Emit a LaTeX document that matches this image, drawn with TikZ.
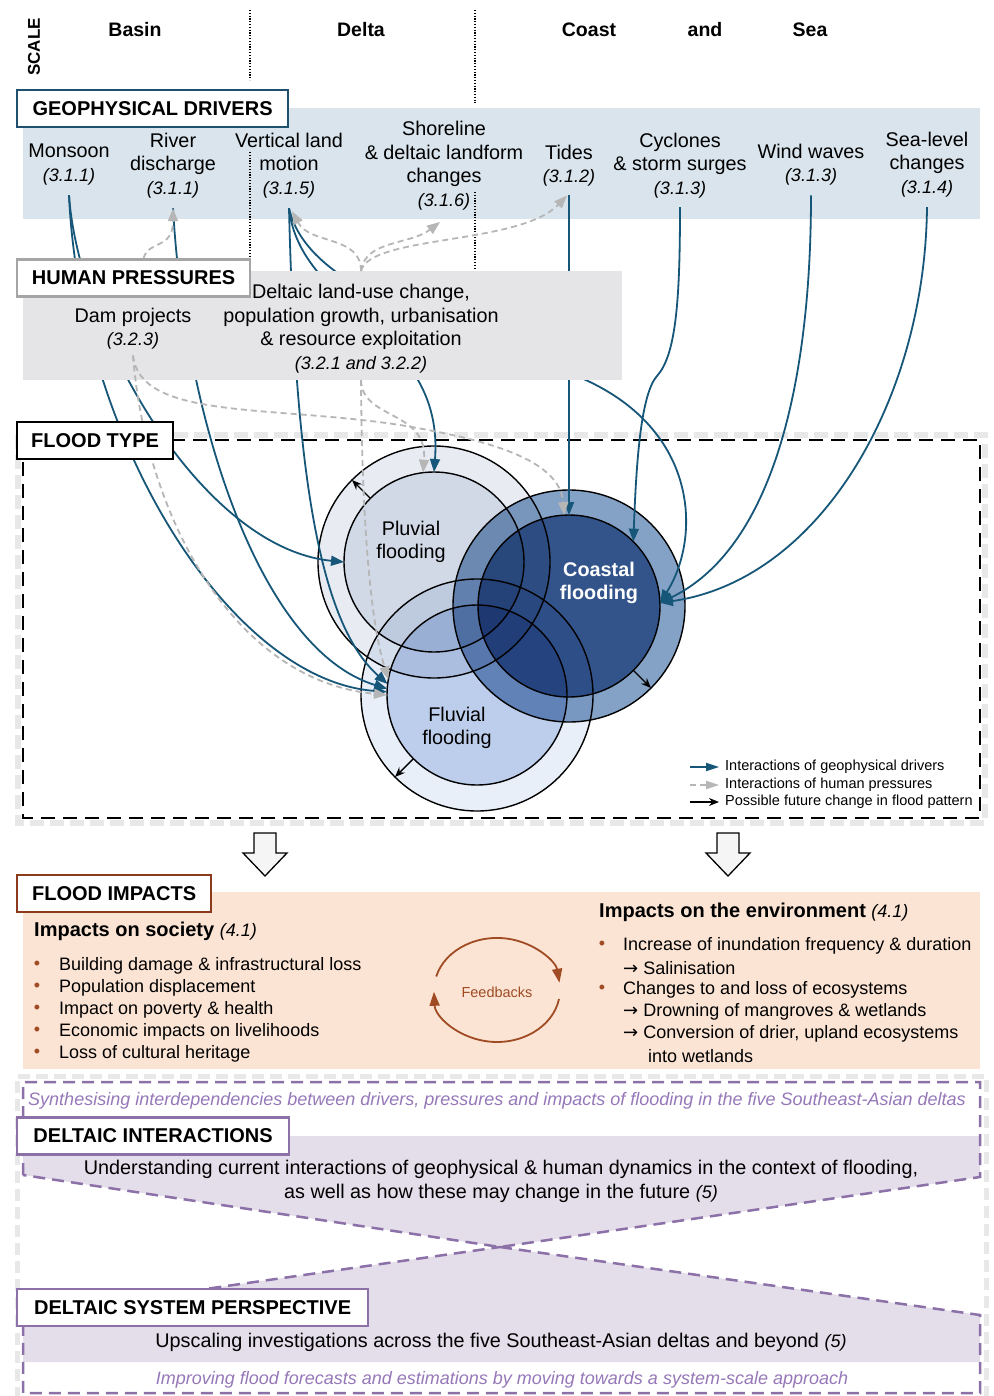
\documentclass[tikz,border=0pt]{standalone}
\usepackage{fontspec}
\setmainfont{Liberation Sans}
\newfontfamily\arrfont{DejaVu Sans}
\usetikzlibrary{arrows.meta}

\definecolor{geoblue}{RGB}{22,86,120}
\definecolor{geoband}{RGB}{217,228,236}
\definecolor{geoedge}{RGB}{31,80,110}
\definecolor{humband}{RGB}{229,228,230}
\definecolor{humedge}{RGB}{165,165,165}
\definecolor{humline}{RGB}{182,182,182}
\definecolor{impband}{RGB}{251,228,212}
\definecolor{impedge}{RGB}{140,58,28}
\definecolor{impbrown}{RGB}{160,75,35}
\definecolor{delband}{RGB}{228,221,234}
\definecolor{deledge}{RGB}{140,112,168}
\definecolor{deltext}{RGB}{150,120,185}
\definecolor{cPluvO}{RGB}{232,236,242}
\definecolor{cPluvI}{RGB}{208,217,229}
\definecolor{cCstO}{RGB}{132,162,198}
\definecolor{cCstI}{RGB}{50,84,138}
\definecolor{cFluvO}{RGB}{233,239,249}
\definecolor{cFluvI}{RGB}{188,206,235}

\tikzset{
  geo/.style={draw=geoblue, line width=1.8pt, -{Triangle[length=13pt,width=10pt]}},
  hum/.style={draw=humline, line width=1.8pt, dash pattern=on 6pt off 4pt, -{Triangle[length=13pt,width=10pt]}},
  fut/.style={draw=black, line width=1.4pt, -{Stealth[length=10pt,width=8pt]}},
  ring/.style={circle, draw=black, line width=1.4pt, inner sep=0pt, outer sep=0pt},
  lbl/.style={draw, fill=white, line width=2.2pt, inner sep=0pt, anchor=west, minimum height=37pt, font=\bfseries\fontsize{20}{24}\selectfont},
  drv/.style={align=center, inner sep=0pt, font=\fontsize{19.8}{23.5}\selectfont},
  hdr/.style={inner sep=0pt, font=\bfseries\fontsize{19.5}{23}\selectfont},
  item/.style={anchor=west, inner sep=0pt, font=\fontsize{18}{22}\selectfont},
  bul/.style={inner sep=0pt, text=impbrown, font=\fontsize{18}{22}\selectfont},
  leg/.style={anchor=west, inner sep=0pt, font=\fontsize{14.5}{17}\selectfont},
  blockarr/.style={draw=black, fill=gray!8, line width=1.3pt, line join=miter},
  deldash/.style={draw=deledge, line width=2.5pt, dash pattern=on 12pt off 7pt},
  fbarr/.style={draw=impbrown, line width=1.8pt, -{Triangle[length=14pt,width=10pt]}},
}
\newcommand{\refno}[1]{{\itshape\fontsize{18}{23.5}\selectfont #1}}
\newcommand{\ra}{{\arrfont\fontsize{18}{22}\selectfont →}}

\begin{document}
\begin{tikzpicture}[x=1pt,y=-1pt]
\useasboundingbox (0,0) rectangle (993,1396);
\fill[white] (0,0) rectangle (993,1396);

% scale
\node[hdr, rotate=90, font=\bfseries\fontsize{17}{20}\selectfont] (scale) at (34,47) {SCALE};
\node[hdr] (basin) at (135,30) {Basin};
\node[hdr] (delta) at (361,30) {Delta};
\node[hdr] (coast) at (589,30) {Coast};
\node[hdr] (andH) at (705,30) {and};
\node[hdr] (seaH) at (810,30) {Sea};

% geophysical band
\node[fill=geoband, minimum width=957pt, minimum height=111pt, inner sep=0pt, outer sep=0pt] (geobox) at (501.5,163.5) {};
\draw[line width=1.2pt, dash pattern=on 1.2pt off 1.6pt] (250,10) -- (250,80);
\draw[line width=1.2pt, dash pattern=on 1.2pt off 1.6pt] (475,10) -- (475,103);
\draw[line width=1.2pt, dash pattern=on 1.2pt off 1.6pt] (250,152) -- (250,270);
\draw[line width=1.2pt, dash pattern=on 1.2pt off 1.6pt] (475,192) -- (475,270);

\node[drv] (mons) at (69,164.5) {Monsoon\\\refno{(3.1.1)}};
\node[drv] (riv) at (173,165.5) {River\\discharge\\\refno{(3.1.1)}};
\node[drv] (vlm) at (289,165.5) {Vertical land\\motion\\\refno{(3.1.5)}};
\node[drv] (shore) at (444,165.5) {Shoreline\\\& deltaic landform\\changes\\\refno{(3.1.6)}};
\node[drv] (tide) at (569,165.5) {Tides\\\refno{(3.1.2)}};
\node[drv] (cyc) at (680,165.5) {Cyclones\\\& storm surges\\\refno{(3.1.3)}};
\node[drv] (wind) at (811,164.5) {Wind waves\\\refno{(3.1.3)}};
\node[drv] (slc) at (927,164.5) {Sea-level\\changes\\\refno{(3.1.4)}};

% flood type frame
\draw[gray!18, line width=6pt, dash pattern=on 14pt off 6pt] (18,435) rectangle (985,823);
\draw[line width=2.5pt, dash pattern=on 14pt off 8pt] (23,440) rectangle (980,818);

% circles
\begin{scope}[blend mode=multiply]
  \fill[cPluvO, even odd rule] (434,562) circle[radius=116] (434,562) circle[radius=90];
  \fill[cPluvI] (434,562) circle[radius=90];
  \fill[cFluvO, even odd rule] (477,695) circle[radius=116] (477,695) circle[radius=90];
  \fill[cFluvI] (477,695) circle[radius=90];
  \fill[cCstO, even odd rule] (569,606) circle[radius=116] (569,606) circle[radius=91];
  \fill[cCstI] (569,606) circle[radius=91];
\end{scope}
\node[ring, minimum size=232pt] (pluvO) at (434,562) {};
\node[ring, minimum size=180pt] (pluvI) at (434,562) {};
\node[ring, minimum size=232pt] (fluvO) at (477,695) {};
\node[ring, minimum size=180pt] (fluvI) at (477,695) {};
\node[ring, minimum size=232pt] (cstO) at (569,606) {};
\node[ring, minimum size=182pt] (cstI) at (569,606) {};

\node[drv] (pluvT) at (411,542) {Pluvial\\flooding};
\node[drv, font=\bfseries\fontsize{19.8}{23.5}\selectfont, text=white] (cstT) at (599,583) {Coastal\\flooding};
\node[drv] (fluvT) at (457,728) {Fluvial\\flooding};

\draw[fut] (pluvI.135) -- (pluvO.135);
\draw[fut] (cstI.-45) -- (cstO.-45);
\draw[fut] (fluvI.225) -- (fluvO.225);

% geophysical drivers
\draw[geo] ([yshift=-10pt]mons.south) .. controls (78,330) and (200,548) .. (pluvI.west);
\draw[geo] ([yshift=-10pt]mons.south) .. controls (80,440) and (230,680) .. (fluvI.178);
\draw[geo] ([yshift=-10pt]riv.south) .. controls (185,420) and (260,650) .. (fluvI.176);
\draw[geo] ([yshift=-10pt]vlm.south) .. controls (295,450) and (315,620) .. (fluvI.173);
\draw[geo] ([yshift=-10pt]vlm.south) .. controls (300,310) and (445,330) .. (pluvI.north);
\draw[geo] ([yshift=-10pt]vlm.south) .. controls (310,300) and (480,330) .. (590,382)
  .. controls (700,435) and (700,540) .. (cstI.2);
\draw[geo] ([yshift=-9pt]tide.south) -- (cstI.north);
\draw[geo] ([yshift=-9pt]cyc.south) .. controls (680,300) and (676,355) .. (657,376)
  .. controls (640,395) and (636,470) .. (cstI.45);
\draw[geo] ([yshift=-10pt]wind.south) .. controls (811,390) and (770,550) .. (cstI.2);
\draw[geo] ([yshift=-10pt]slc.south) .. controls (925,400) and (820,580) .. (cstI.2);

% human pressures
\node[fill=humband, minimum width=599pt, minimum height=109pt, inner sep=0pt, outer sep=0pt] (humbox) at (322.5,325.5) {};
\node[drv] (dam) at (133,328.5) {Dam projects\\\refno{(3.2.3)}};
\node[drv] (lu) at (361,328.75) {Deltaic land-use change,\\population growth, urbanisation\\\& resource exploitation\\\refno{(3.2.1 and 3.2.2)}};
\coordinate (luT) at (humbox.north -| lu);
\coordinate (luB) at (humbox.south -| lu);

\draw[hum] (luT) .. controls (361,235) and (310,245) .. ([shift={(3pt,-13pt)}]vlm.south);
\draw[hum] (luT) .. controls (365,240) and (410,245) .. ([shift={(-4pt,-12pt)}]shore.south);
\draw[hum] (luT) .. controls (370,235) and (520,245) .. ([shift={(-2pt,-9pt)}]tide.south);
\draw[hum] (luB) .. controls (362,420) and (428,410) .. (pluvI.97);
\draw[hum] (luB) .. controls (362,520) and (370,620) .. (fluvI.170);
\draw[hum] ([yshift=-6pt]dam.south) .. controls (140,420) and (270,405) .. (400,425)
  .. controls (490,440) and (560,460) .. (cstI.93);
\draw[hum] ([yshift=-6pt]dam.south) .. controls (145,510) and (230,680) .. (fluvI.west);

% labels
\node[lbl, draw=geoedge, minimum width=271pt] (geol) at (16,108.5) {GEOPHYSICAL DRIVERS};
\node[lbl, draw=humedge, minimum width=233pt] (hpl) at (16,278) {HUMAN PRESSURES};
\draw[hum] ([xshift=10pt]hpl.north) .. controls (148,240) and (173,250) .. ([yshift=-10pt]riv.south);
\node[lbl, draw=black, minimum width=156pt] (ftl) at (16,440.5) {FLOOD TYPE};

% legend
\node[leg] (legG) at (725,767) {Interactions of geophysical drivers};
\node[leg] (legH) at (725,785) {Interactions of human pressures};
\node[leg] (legF) at (725,802) {Possible future change in flood pattern};
\draw[geo, -{Triangle[length=13pt,width=8pt]}] ([xshift=-35pt]legG.west) -- ([xshift=-6pt]legG.west);
\draw[hum, -{Triangle[length=13pt,width=8pt]}] ([xshift=-35pt]legH.west) -- ([xshift=-6pt]legH.west);
\draw[fut, -{Stealth[length=10pt,width=8pt]}] ([xshift=-35pt]legF.west) -- ([xshift=-6pt]legF.west);

% block arrows
\foreach \x in {265,728}
  \draw[blockarr] (\x-11,833) -- (\x+11,833) -- (\x+11,853) -- (\x+22,853) -- (\x,876) -- (\x-22,853) -- (\x-11,853) -- cycle;

% flood impacts
\fill[impband] (23,892) rectangle (980,1069);
\node[lbl, draw=impedge, minimum width=194pt] (fil) at (16,893.5) {FLOOD IMPACTS};
\node[anchor=west, inner sep=0pt, font=\bfseries\fontsize{20}{24}\selectfont] (soc) at (34,931) {Impacts on society {\mdseries\itshape\fontsize{18}{22}\selectfont (4.1)}};
\foreach \t [count=\i from 0] in {Building damage \& infrastructural loss, Population displacement, Impact on poverty \& health, Economic impacts on livelihoods, Loss of cultural heritage} {
  \node[bul] (socb\i) at (37,965+22*\i) {•};
  \node[item] (soc\i) at (59,966+22*\i) {\t};
}
\node[anchor=west, inner sep=0pt, font=\bfseries\fontsize{20}{24}\selectfont] (env) at (599,912) {Impacts on the environment {\mdseries\itshape\fontsize{18}{22}\selectfont (4.1)}};
\node[bul] (envb1) at (602,945) {•};
\node[item] (env1) at (623,946) {Increase of inundation frequency \& duration};
\node[item] (env2) at (623,968) {\ra\ Salinisation};
\node[bul] (envb3) at (602,989) {•};
\node[item] (env3) at (623,990) {Changes to and loss of ecosystems};
\node[item] (env4) at (623,1012) {\ra\ Drowning of mangroves \& wetlands};
\node[item] (env5) at (623,1034) {\ra\ Conversion of drier, upland ecosystems};
\node[item] (env6) at (648,1056) {into wetlands};

\node[inner sep=0pt, text=impbrown, font=\fontsize{14.5}{17}\selectfont] (fb) at (497,992) {Feedbacks};
\draw[fbarr] (436.2,976.5) arc[start angle=-165, end angle=-8, x radius=63, y radius=52];
\draw[fbarr] (559.0,999.0) arc[start angle=10, end angle=178, x radius=63, y radius=52];

% deltaic interactions
\draw[gray!18, line width=5pt, dash pattern=on 12pt off 6pt] (17,1399) -- (17,1076) -- (986,1076) -- (986,1399);
\fill[delband] (23,1136) -- (980,1136) -- (980,1177) -- (500,1247) -- (23,1175) -- cycle;
\fill[delband] (500,1247) -- (980,1315) -- (980,1362) -- (23,1362) -- (23,1315) -- cycle;
\draw[deldash] (23,1175) -- (23,1082) -- (980,1082) -- (980,1177) -- (500,1247) -- cycle;
\draw[deldash] (500,1247) -- (980,1315) -- (980,1393) -- (23,1393) -- (23,1315) -- cycle;

\node[inner sep=0pt, text=deltext, font=\itshape\fontsize{18}{22}\selectfont] (synth) at (497,1101) {Synthesising interdependencies between drivers, pressures and impacts of flooding in the five Southeast-Asian deltas};
\node[lbl, draw=deledge, minimum width=272pt] (dil) at (16,1136) {DELTAIC INTERACTIONS};
\node[drv, font=\fontsize{19.8}{24}\selectfont] (under) at (501,1181) {Understanding current interactions of geophysical \& human dynamics in the context of flooding,\\as well as how these may change in the future \refno{(5)}};
\node[lbl, draw=deledge, minimum width=351pt] (dsl) at (16,1307.5) {DELTAIC SYSTEM PERSPECTIVE};
\node[drv] (ups) at (501,1342) {Upscaling investigations across the five Southeast-Asian deltas and beyond \refno{(5)}};
\node[inner sep=0pt, text=deltext, font=\itshape\fontsize{18}{22}\selectfont] (impr) at (502,1380) {Improving flood forecasts and estimations by moving towards a system-scale approach};
\end{tikzpicture}
\end{document}
